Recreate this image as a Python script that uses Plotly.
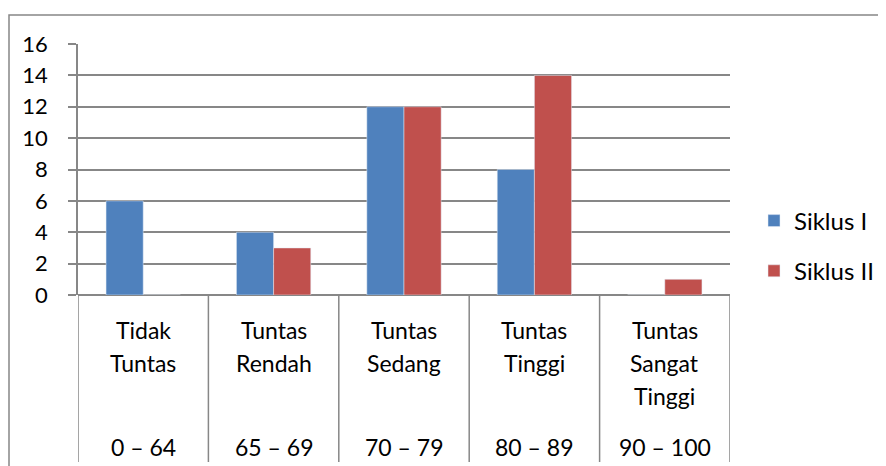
import plotly.graph_objects as go

categories = ["Tidak Tuntas", "Tuntas Rendah", "Tuntas Sedang", "Tuntas Tinggi", "Tuntas Sangat Tinggi"]
category_lines = [["Tidak", "Tuntas"], ["Tuntas", "Rendah"], ["Tuntas", "Sedang"], ["Tuntas", "Tinggi"], ["Tuntas", "Sangat", "Tinggi"]]
score_ranges = ["0 – 64", "65 – 69", "70 – 79", "80 – 89", "90 – 100"]
siklus_1 = [6, 4, 12, 8, 0]
siklus_2 = [0, 3, 12, 14, 1]
y_ticks = [0, 2, 4, 6, 8, 10, 12, 14, 16]

FONT = "Lato"
GRID = "#878787"
OFF = 8  # page body margin
W, H = 886, 466
L, T = 70, 36
pw, ph = 652, 251
R = W - L - pw
B = H - T - ph


def px_x(page_px):
    return (page_px - OFF - L) / pw


def px_y(page_py):
    return (H - B - (page_py - OFF)) / ph


fig = go.Figure()
fig.add_trace(go.Bar(name="Siklus I", x=categories, y=siklus_1, marker_color="#4F81BD",
                     legendgroup="a"))
fig.add_trace(go.Bar(name="Siklus II", x=categories, y=siklus_2, marker_color="#C0504D",
                     legendgroup="b"))

shapes = []
# outer chart border
shapes.append(dict(type="rect", xref="paper", yref="paper",
                   x0=px_x(9), x1=px_x(900), y0=px_y(490), y1=px_y(15),
                   line=dict(color=GRID, width=1.5), layer="below"))
# category separators extending below the axis
for i in range(len(categories) + 1):
    shapes.append(dict(type="line", xref="x", yref="paper",
                       x0=i - 0.5, x1=i - 0.5, y0=px_y(462), y1=0,
                       line=dict(color=GRID, width=1.5)))

annotations = []
for i, lines in enumerate(category_lines):
    for j, line in enumerate(lines):
        annotations.append(dict(x=categories[i], xref="x", yref="paper",
                                y=px_y(330 + 33 * j), yanchor="middle", showarrow=False,
                                text=line, font=dict(family=FONT, size=23, color="#000")))
    annotations.append(dict(x=categories[i], xref="x", yref="paper",
                            y=px_y(447), yanchor="middle", showarrow=False,
                            text=score_ranges[i], font=dict(family=FONT, size=23, color="#000")))

fig.update_layout(
    width=W, height=H,
    margin=dict(l=L, r=R, t=T, b=B),
    paper_bgcolor="white", plot_bgcolor="white",
    barmode="group", bargap=0.43, bargroupgap=0,
    font=dict(family=FONT, size=21, color="#000"),
    shapes=shapes, annotations=annotations,
    legend=dict(x=px_x(754), xanchor="left", y=px_y(246), yanchor="middle",
                font=dict(family=FONT, size=24, color="#000"),
                tracegroupgap=16, bgcolor="rgba(0,0,0,0)"),
    xaxis=dict(type="category", range=[-0.5, len(categories) - 0.5],
               showticklabels=False, showgrid=False, zeroline=False,
               showline=False, ticks=""),
    yaxis=dict(range=[0, 16], tickvals=y_ticks, showgrid=True, gridcolor=GRID, gridwidth=1.5,
               zeroline=True, zerolinecolor=GRID, zerolinewidth=1.5,
               showline=True, linecolor=GRID, linewidth=1.5,
               ticks="outside", ticklen=8, tickcolor=GRID, tickwidth=1.5,
               ticklabelstandoff=16, tickfont=dict(family=FONT, size=22, color="#000")),
)

fig.write_html("out.html")
